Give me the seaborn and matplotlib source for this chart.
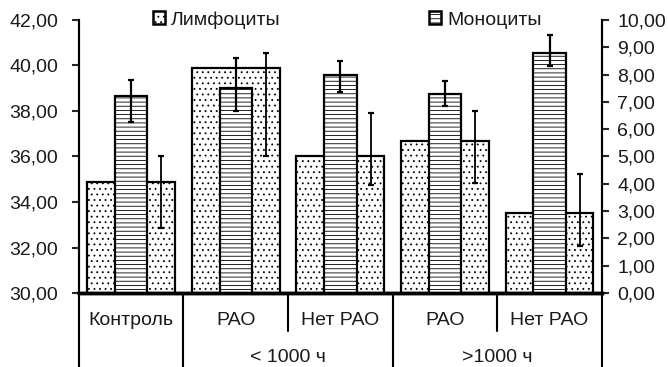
import numpy as np
import matplotlib
matplotlib.use("Agg")
import matplotlib.pyplot as plt
import matplotlib.transforms as mtransforms
from matplotlib.patches import Patch
import seaborn as sns

# values
labels = ["Контроль", "РАО", "Нет РАО", "РАО", "Нет РАО"]
groups = ["< 1000 ч", ">1000 ч"]
lymph = [34.9, 39.9, 36.0, 36.7, 33.5]
lymph_err_lo = [2.04, 3.87, 1.25, 1.85, 1.42]
lymph_err_hi = [1.12, 0.64, 1.90, 1.31, 1.73]
mono = [7.2, 7.5, 8.0, 7.3, 8.8]
mono_err_lo = [0.93, 0.84, 0.64, 0.46, 0.49]
mono_err_hi = [0.61, 1.09, 0.50, 0.46, 0.64]

FS = 14

sns.set_style("white")
plt.rcParams["font.family"] = ["Liberation Sans", "DejaVu Sans"]
plt.rcParams["font.size"] = FS
plt.rcParams["hatch.linewidth"] = 0.6
plt.rcParams["text.color"] = "#1a1a1a"
plt.rcParams["ytick.labelcolor"] = "#1a1a1a"

pos = np.arange(len(labels))

fig = plt.figure(figsize=(6.68, 3.67), dpi=100)
ax = fig.add_axes([0.118, 0.2016, 0.783, 0.744])
ax2 = ax.twinx()

sns.barplot(x=pos, y=lymph, ax=ax, width=0.84, color="white",
            edgecolor="black", linewidth=1.6, saturation=1)
for p in ax.patches:
    p.set_hatch("...")
ax.errorbar(pos + 0.29, lymph, yerr=[lymph_err_lo, lymph_err_hi], fmt="none",
            ecolor="black", elinewidth=1.3, capsize=2.5, capthick=1.6)

sns.barplot(x=pos, y=mono, ax=ax2, width=0.31, color="white",
            edgecolor="black", linewidth=1.6, saturation=1)
for p in ax2.patches:
    p.set_hatch("----")
ax2.errorbar(pos, mono, yerr=[mono_err_lo, mono_err_hi], fmt="none",
             ecolor="black", elinewidth=1.6, capsize=2.5, capthick=1.6)

ax.set_xlim(-0.5, len(labels) - 0.5)
ax.set_ylim(30, 42)
ax2.set_ylim(0, 10)
ax.set_yticks(np.arange(30, 43, 2))
ax.set_yticklabels([f"{v:.2f}".replace(".", ",") for v in np.arange(30, 43, 2)])
ax2.set_yticks(np.arange(0, 11, 1))
ax2.set_yticklabels([f"{v:.2f}".replace(".", ",") for v in np.arange(0, 11, 1)])
ax.set_xticks([])
ax2.set_xticks([])
ax.set_xlabel("")
ax2.set_xlabel("")
ax.set_ylabel("")
ax2.set_ylabel("")

ax.tick_params(axis="y", direction="out", length=5, width=1.5, pad=10, labelsize=FS)
ax2.tick_params(axis="y", direction="out", length=5, width=1.5, pad=6, labelsize=FS)

for a in (ax, ax2):
    a.spines["top"].set_visible(False)
    a.spines["left"].set_linewidth(1.5)
    a.spines["right"].set_linewidth(1.5)
    a.spines["bottom"].set_linewidth(2.5)
    a.spines["left"].set_color("black")
    a.spines["right"].set_color("black")
    a.spines["bottom"].set_color("black")

# category table below the axis
trans = mtransforms.blended_transform_factory(ax.transData, ax.transAxes)
for i, lab in enumerate(labels):
    ax.text(i, -0.1, lab, transform=trans, ha="center", va="center", fontsize=FS)
ax.text(1.5, -0.238, groups[0], transform=trans, ha="center", va="center", fontsize=FS)
ax.text(3.5, -0.238, groups[1], transform=trans, ha="center", va="center", fontsize=FS)
for b in [-0.5, 0.5, 2.5, 4.5]:
    ax.plot([b, b], [0, -0.28], transform=trans, color="black", lw=1.5, clip_on=False)
for b in [1.5, 3.5]:
    ax.plot([b, b], [0, -0.14], transform=trans, color="black", lw=1.5, clip_on=False)

handles = [Patch(facecolor="white", edgecolor="black", hatch="...", linewidth=1.8),
           Patch(facecolor="white", edgecolor="black", hatch="----", linewidth=1.8)]
ax2.legend(handles, ["Лимфоциты", "Моноциты"], loc="center", bbox_to_anchor=(0.513, 1.0),
           ncol=2, frameon=False, handlelength=0.65, handleheight=0.65,
           handletextpad=0.3, columnspacing=7.6, fontsize=FS)

fig.savefig("out.png", dpi=100)
